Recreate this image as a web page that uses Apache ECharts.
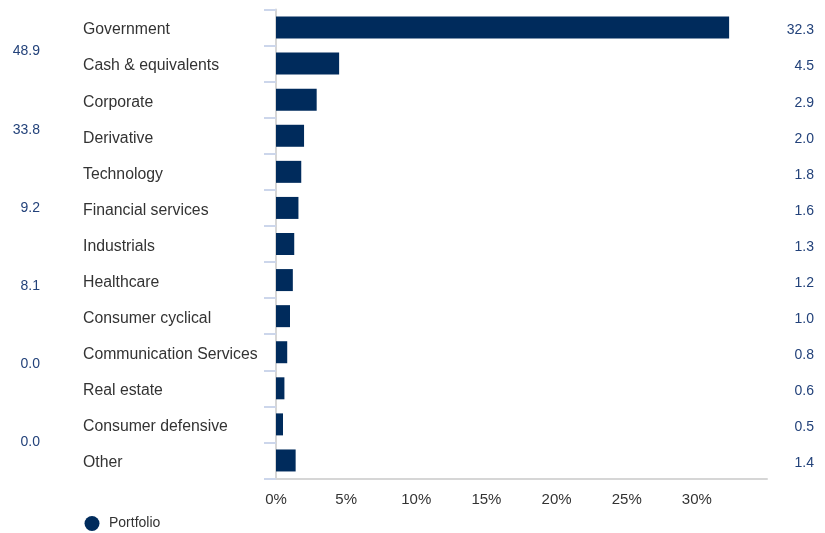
<!DOCTYPE html>
<html>
<head>
<meta charset="utf-8">
<script src="https://cdn.jsdelivr.net/npm/echarts@6/dist/echarts.min.js"></script>
<style>
html,body{margin:0;padding:0;background:#fff;}
#chart{width:825px;height:533px;}
</style>
</head>
<body>
<div id="chart"></div>
<script>
const categories = ["Government","Cash & equivalents","Corporate","Derivative","Technology","Financial services","Industrials","Healthcare","Consumer cyclical","Communication Services","Real estate","Consumer defensive","Other"];
const portfolio = [32.3,4.5,2.9,2.0,1.8,1.6,1.3,1.2,1.0,0.8,0.6,0.5,1.4];
const sideValues = ["48.9","33.8","9.2","8.1","0.0","0.0"];
const xTicks = { min: 0, max: 35, interval: 5 };

const font = "Liberation Sans, Arial, Helvetica, sans-serif";
const navy = "#002b5c";
const labelNavy = "#23427a";

const chart = echarts.init(document.getElementById('chart'), null, {renderer:'canvas'});
const gridRect = { left: 276, right: 58, top: 9.5, bottom: 54.5, containLabel: false };
chart.setOption({
  animation: false,
  textStyle: { fontFamily: font },
  legend: {
    data: ['Portfolio'],
    left: 79.5, top: 511,
    icon: 'circle', itemWidth: 24, itemHeight: 15, itemGap: 8, symbolKeepAspect: true,
    textStyle: { color: '#333', fontSize: 14, fontFamily: font }
  },
  grid: [ Object.assign({}, gridRect), Object.assign({}, gridRect) ],
  xAxis: [
    {
      type: 'value', gridIndex: 0,
      min: xTicks.min, max: xTicks.max, interval: xTicks.interval,
      axisLine: { show: true, lineStyle: { color: '#d6d6d6', width: 2 } },
      axisTick: { show: false },
      splitLine: { show: false },
      axisLabel: { formatter: '{value}%', color: '#333', fontSize: 15, margin: 14, showMaxLabel: false, fontFamily: font }
    },
    { type: 'value', gridIndex: 1, min: 0, max: 35, show: false }
  ],
  yAxis: [
    {
      type: 'category', gridIndex: 0, inverse: true, data: categories, position: 'left',
      axisLine: { show: true, lineStyle: { color: '#d6d6d6', width: 2 } },
      axisTick: { show: true, length: 12, lineStyle: { color: '#ccd6eb', width: 2 } },
      axisLabel: { align: 'left', margin: 193, color: '#333', fontSize: 15.8, verticalAlign: 'top', lineHeight: 5, fontFamily: font }
    },
    {
      type: 'category', gridIndex: 0, inverse: true, position: 'right',
      data: portfolio.map(v => v.toFixed(1)),
      axisLine: { show: false }, axisTick: { show: false },
      axisLabel: { align: 'right', margin: 47, color: labelNavy, fontSize: 14, verticalAlign: 'top', lineHeight: 6, fontFamily: font }
    },
    {
      type: 'category', gridIndex: 1, inverse: true, position: 'left',
      data: sideValues,
      axisLine: { show: false }, axisTick: { show: false },
      axisLabel: { align: 'right', margin: 236, color: labelNavy, fontSize: 14, verticalAlign: 'top', lineHeight: 6, fontFamily: font }
    }
  ],
  series: [
    {
      name: 'Portfolio', type: 'bar', xAxisIndex: 0, yAxisIndex: 0,
      data: portfolio, barWidth: 22,
      itemStyle: { color: navy }
    }
  ]
});
</script>
</body>
</html>
